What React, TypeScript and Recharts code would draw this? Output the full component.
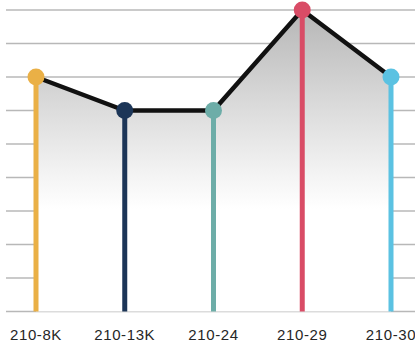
import {
  ComposedChart,
  Area,
  Line,
  XAxis,
  YAxis,
  CartesianGrid,
  ReferenceLine,
} from 'recharts'

const samples = ['210-8K', '210-13K', '210-24', '210-29', '210-30']
const levels = [7, 6, 6, 9, 7]
const stemColors = ['#EAB046', '#1C3557', '#6DADA8', '#D94C66', '#5BC2E2']
const levelTicks = [0, 1, 2, 3, 4, 5, 6, 7, 8, 9]

const chartData = samples.map((name, i) => ({ name, level: levels[i] }))

// coloured knob on top of each stem
const renderDot = (props: any) => {
  const { cx, cy, index } = props
  return <circle key={`dot-${index}`} cx={cx} cy={cy} r={8.5} fill={stemColors[index]} />
}

export default function App() {
  return (
    <div style={{ position: 'absolute', left: 0, top: 0, width: 415, height: 345, background: '#fff' }}>
      <ComposedChart
        width={415}
        height={345}
        data={chartData}
        margin={{ top: 10, right: 0, left: 6, bottom: 0 }}
      >
        <defs>
          <linearGradient id="levelFill" x1="0" y1="0" x2="0" y2="1">
            <stop offset="0%" stopColor="#b6b6b6" />
            <stop offset="33%" stopColor="#dcdcdc" />
            <stop offset="55%" stopColor="#f4f4f4" />
            <stop offset="66%" stopColor="#ffffff" />
          </linearGradient>
        </defs>
        <CartesianGrid vertical={false} stroke="#b8b8b8" strokeWidth={1.5} />
        <XAxis
          dataKey="name"
          scale="point"
          padding={{ left: 30, right: 24 }}
          axisLine={false}
          tickLine={false}
          interval={0}
          height={33.5}
          tickMargin={12}
          tick={{
            fontSize: 15,
            fill: '#262626',
            fontFamily: '"Liberation Sans", Arial, sans-serif',
            letterSpacing: 0.6,
          }}
        />
        <YAxis hide domain={[0, 9]} ticks={levelTicks} />
        <Area
          type="linear"
          dataKey="level"
          stroke="none"
          fill="url(#levelFill)"
          fillOpacity={1}
          isAnimationActive={false}
        />
        {samples.map((name, i) => (
          <ReferenceLine
            key={name}
            segment={[
              { x: name, y: 0 },
              { x: name, y: levels[i] },
            ]}
            stroke={stemColors[i]}
            strokeWidth={5}
            ifOverflow="visible"
          />
        ))}
        <Line
          type="linear"
          dataKey="level"
          stroke="#111"
          strokeWidth={4.5}
          dot={renderDot}
          activeDot={false}
          isAnimationActive={false}
        />
      </ComposedChart>
    </div>
  )
}
